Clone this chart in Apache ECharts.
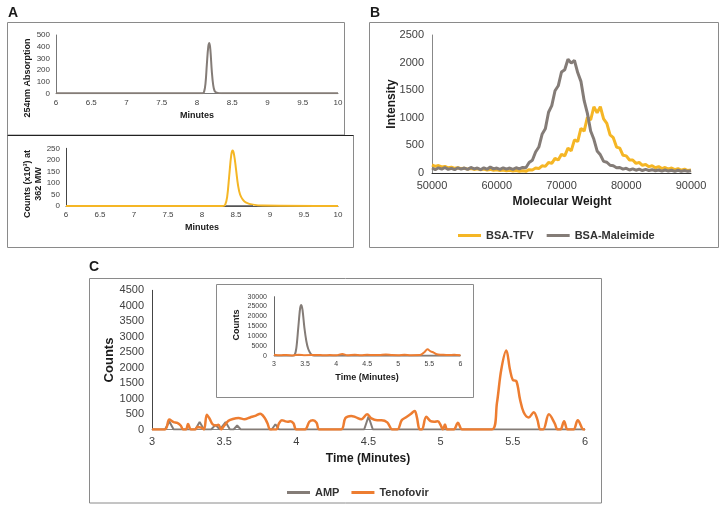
<!DOCTYPE html>
<html><head><meta charset="utf-8">
<script src="https://cdn.jsdelivr.net/npm/echarts@6/dist/echarts.min.js"></script>
<style>html,body{margin:0;padding:0;background:#fff}#c{width:726px;height:509px}</style>
</head><body><div id="c"></div>
<script>
// ---------- Panel A (top): 254 nm absorption ----------
const aTopTime = [6, 8.08, 8.10, 8.12, 8.14, 8.16, 8.175, 8.19, 8.21, 8.23, 8.25, 8.28, 8.35, 10];
const aTopAbs  = [0, 0, 12, 80, 250, 400, 432, 370, 190, 70, 20, 6, 1, 0];
const aTicksX = [6, 6.5, 7, 7.5, 8, 8.5, 9, 9.5, 10];

// ---------- Panel A (bottom): counts at 362 MW ----------
const aBotTime   = [6, 8.30, 8.34, 8.37, 8.40, 8.43, 8.45, 8.47, 8.50, 8.53, 8.56, 8.60, 8.65, 8.75, 8.90, 10];
const aBotCounts = [0, 0, 5, 40, 130, 220, 240, 225, 160, 90, 50, 28, 15, 6, 2, 0];
const aBotRefTime = [8.35, 8.75];
const aBotRefVal  = [0, 0];

// ---------- Panel B: molecular weight spectra ----------
const bMw = [50000,50500,51000,51500,52000,52500,53000,53500,54000,54500,
  55000,55500,56000,56500,57000,57500,58000,58500,59000,59500,
  60000,60500,61000,61500,62000,62500,63000,63500,64000,64500,
  65000,65500,66000,66500,67000,67500,68000,68500,69000,69500,
  70000,70500,71000,71500,72000,72500,73000,73500,74000,74500,
  75000,75500,76000,76500,77000,77500,78000,78500,79000,79500,
  80000,80500,81000,81500,82000,82500,83000,83500,84000,84500,
  85000,85500,86000,86500,87000,87500,88000,88500,89000,89500,90000];
const bTfv = [145,120,135,110,120,95,105,85,95,80,
  85,70,80,65,75,60,70,55,65,50,
  60,45,55,40,50,35,45,30,40,30,
  60,55,90,80,130,120,190,175,265,235,
  340,310,450,400,600,570,810,760,1010,960,
  1200,1090,1200,980,900,690,640,470,450,320,
  310,235,235,175,190,140,155,115,130,95,
  115,80,100,70,90,60,80,50,70,45,55];
const bMal = [90,60,95,70,100,65,85,60,95,70,
  90,65,100,75,90,60,95,70,110,75,
  90,65,95,70,90,65,95,75,100,95,
  190,230,380,470,700,800,1100,1220,1490,1580,
  1830,1870,2060,1990,2040,1820,1660,1310,1080,760,
  610,400,330,210,195,140,130,95,100,70,
  85,55,75,50,70,45,65,45,60,40,
  55,35,55,35,50,30,50,30,45,30,40];

// ---------- Panel C (main): AMP / Tenofovir ----------
const tenT = [3.00,3.09,3.12,3.15,3.175,3.20,3.215,3.235,3.25,3.27,
  3.30,3.315,3.34,3.36,3.38,3.40,3.42,3.44,3.46,3.48,
  3.50,3.53,3.56,3.60,3.64,3.68,3.72,3.75,3.78,3.80,
  3.82,3.86,3.88,3.90,3.92,3.94,3.96,3.98,4.00,4.06,
  4.09,4.115,4.14,4.16,4.31,4.34,4.38,4.41,4.45,4.49,
  4.52,4.56,4.59,4.63,4.665,4.70,4.73,4.755,4.79,4.82,
  4.835,4.855,4.87,4.90,4.93,4.955,4.98,5.00,5.015,5.03,
  5.045,5.09,5.12,5.15,5.355,5.39,5.42,5.455,5.48,5.50,
  5.525,5.55,5.575,5.61,5.645,5.67,5.69,5.71,5.75,5.79,
  5.81,5.83,5.855,5.88,5.92,5.95,5.99,6.00];
const tenV = [0,0,320,240,215,120,0,0,175,0,
  0,80,60,0,475,340,170,130,150,0,
  120,280,340,370,330,390,450,510,380,200,
  0,0,200,300,270,250,270,200,0,0,
  250,300,220,0,0,370,440,400,330,490,
  360,300,300,230,0,0,300,380,490,600,
  400,0,0,410,270,250,270,140,0,160,
  0,0,215,0,0,860,1940,2550,1940,1600,
  1560,970,560,390,560,320,0,0,490,200,
  0,0,270,0,0,300,0,0];
const ampT = [3.00,3.09,3.12,3.15,3.30,3.33,3.36,3.41,3.44,3.47,3.48,3.51,3.54,3.565,3.59,3.615,3.83,3.855,3.88,4.47,4.50,4.53,6.00];
const ampV = [0,0,260,0,0,240,0,0,150,0,0,240,0,0,130,0,0,170,0,0,420,0,0];

// ---------- Panel C (inset) ----------
const insAmpT = [3.00,3.30,3.33,3.36,3.39,3.42,3.44,3.46,3.49,3.52,3.55,3.58,3.61,3.65,6.00];
const insAmpV = [0,0,200,4000,14000,24000,25800,23000,14000,7500,3500,1500,400,0,0];
const insTenT = [3.00,3.10,3.20,3.30,3.40,3.50,3.60,3.70,3.80,3.90,4.00,4.10,4.18,4.30,4.40,4.50,4.60,4.70,4.80,4.90,5.00,5.10,5.20,5.35,5.42,5.47,5.52,5.57,5.62,5.70,5.80,5.90,6.00];
const insTenV = [500,200,400,150,450,250,300,400,200,300,200,900,200,450,250,500,300,350,600,300,250,450,250,300,1800,3300,2200,1600,700,500,300,450,200];

const zip = (xs, ys) => xs.map((x, i) => [x, ys[i]]);
const FF = '"Liberation Sans", Arial, sans-serif';
const GRAY = '#847c77', YEL = '#F5B625', ORA = '#ED7D31';

function xAx(grid, min, max, step, fs, margin, lineColor) {
  return { type: 'value', gridIndex: grid, min, max, interval: step,
    axisLine: { show: true, onZero: false, lineStyle: { color: lineColor, width: 1 } },
    axisTick: { show: false }, splitLine: { show: false },
    axisLabel: { fontSize: fs, margin, color: '#404040', fontFamily: FF, formatter: v => String(v) } };
}
function yAx(grid, min, max, step, fs, margin, lineColor) {
  return { type: 'value', gridIndex: grid, min, max, interval: step,
    axisLine: { show: true, lineStyle: { color: lineColor, width: 1 } },
    axisTick: { show: false }, splitLine: { show: false },
    axisLabel: { fontSize: fs, margin, color: '#404040', fontFamily: FF, formatter: v => String(v) } };
}
function line(name, xi, data, color, width, smooth, z) {
  return { name, type: 'line', xAxisIndex: xi, yAxisIndex: xi, data, showSymbol: false, symbol: 'none',
    smooth: smooth, lineStyle: { color, width }, itemStyle: { color }, z: z || 2, silent: true };
}
function txt(x, y, text, size, rot, color) {
  return { type: 'text', x, y, rotation: rot || 0, z: 10,
    style: { text, fontSize: size, fontWeight: 'bold', fontFamily: FF, fill: color || '#1a1a1a', align: 'center', verticalAlign: 'middle' } };
}
function box(x, y, w, h, color) {
  return { type: 'rect', shape: { x, y, width: w, height: h }, z: 0,
    style: { fill: 'none', stroke: color || '#8a8a8a', lineWidth: 1 } };
}

const chart = echarts.init(document.getElementById('c'), null, { renderer: 'canvas' });
chart.setOption({
  animation: false,
  backgroundColor: '#fff',
  grid: [
    { left: 56, top: 35, width: 282, height: 58.3 },
    { left: 66, top: 148.3, width: 272, height: 57.7 },
    { left: 432, top: 35, width: 259, height: 138 },
    { left: 152, top: 290.3, width: 433, height: 139.2 },
    { left: 274, top: 296.7, width: 186.4, height: 59 }
  ],
  xAxis: [
    xAx(0, 6, 10, 0.5, 8, 5, '#777'),
    xAx(1, 6, 10, 0.5, 8, 5, '#555'),
    xAx(2, 50000, 90000, 10000, 11, 7, '#333'),
    xAx(3, 3, 6, 0.5, 11, 7, '#888'),
    xAx(4, 3, 6, 0.5, 7, 5, '#888')
  ],
  yAxis: [
    yAx(0, 0, 500, 100, 8, 6, '#777'),
    yAx(1, 0, 250, 50, 8, 6, '#444'),
    yAx(2, 0, 2500, 500, 11, 8, '#888'),
    yAx(3, 0, 4500, 500, 11, 8, '#444'),
    yAx(4, 0, 30000, 5000, 7, 7, '#666')
  ],
  legend: [
    { data: ['BSA-TFV', 'BSA-Maleimide'], left: 453, top: 225, icon: 'rect', itemWidth: 23, itemHeight: 3, itemGap: 13,
      textStyle: { fontSize: 11, fontWeight: 'bold', fontFamily: FF, color: '#333' } },
    { data: ['AMP', 'Tenofovir'], left: 282, top: 482, icon: 'rect', itemWidth: 23, itemHeight: 3, itemGap: 12,
      textStyle: { fontSize: 11, fontWeight: 'bold', fontFamily: FF, color: '#333' } }
  ],
  series: [
    line('A254', 0, zip(aTopTime, aTopAbs), GRAY, 2, 0.4),
    line('A362', 1, zip(aBotTime, aBotCounts), YEL, 2, 0.4),
    line('A362ref', 1, zip(aBotRefTime, aBotRefVal), '#555', 1.5, false, 3),
    line('BSA-TFV', 2, zip(bMw, bTfv), YEL, 3, false),
    line('BSA-Maleimide', 2, zip(bMw, bMal), GRAY, 3, false, 3),
    line('AMP', 3, zip(ampT, ampV), GRAY, 2, false),
    line('Tenofovir', 3, zip(tenT, tenV), ORA, 2.5, 0.35, 3),
    line('AMP', 4, zip(insAmpT, insAmpV), GRAY, 2, 0.3),
    line('Tenofovir', 4, zip(insTenT, insTenV), ORA, 2, 0.3, 3)
  ],
  graphic: [
    txt(13, 13, 'A', 14), txt(375, 13, 'B', 14), txt(94, 267, 'C', 14),
    box(7.5, 22.5, 337, 112.5),
    box(7.5, 135.5, 346, 112),
    { type: 'line', shape: { x1: 7.5, y1: 135.5, x2: 353.5, y2: 135.5 }, style: { stroke: '#222', lineWidth: 1 }, z: 1 },
    box(369.5, 22.5, 349, 225),
    box(89.5, 278.5, 512, 224.5),
    box(216.5, 284.5, 257, 113),
    txt(28, 78, '254nm Absorption', 9, Math.PI / 2),
    txt(197, 116, 'Minutes', 9),
    txt(28, 184, 'Counts (x10³) at', 9, Math.PI / 2),
    txt(39, 184, '362 MW', 9, Math.PI / 2),
    txt(202, 228, 'Minutes', 9),
    txt(392, 104, 'Intensity', 12, Math.PI / 2),
    txt(562, 202, 'Molecular Weight', 12),
    txt(109, 360, 'Counts', 13, Math.PI / 2),
    txt(368, 459, 'Time (Minutes)', 12),
    txt(237, 325, 'Counts', 9, Math.PI / 2),
    txt(367, 378, 'Time (Minutes)', 9)
  ]
});
</script></body></html>
